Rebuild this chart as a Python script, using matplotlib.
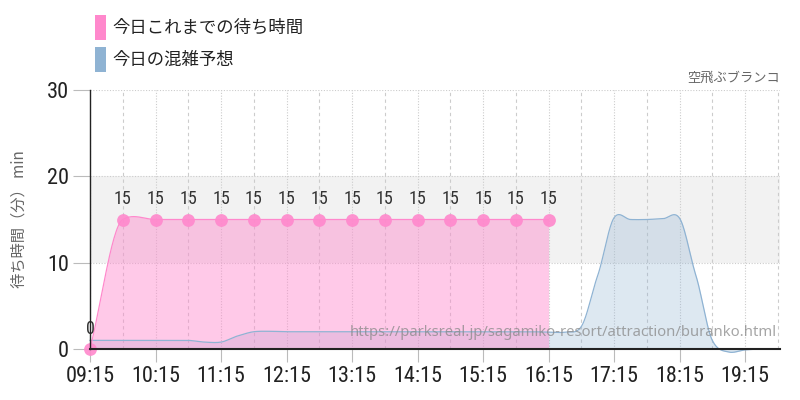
import numpy as np
import matplotlib
matplotlib.use("Agg")
import matplotlib.pyplot as plt
from matplotlib import font_manager
from matplotlib.patches import Rectangle

# ---------------- data ----------------
actual_times = ["09:15", "09:45", "10:15", "10:45", "11:15", "11:45", "12:15", "12:45",
                "13:15", "13:45", "14:15", "14:45", "15:15", "15:45", "16:15"]
actual_waits = [0, 15, 15, 15, 15, 15, 15, 15, 15, 15, 15, 15, 15, 15, 15]

forecast_times = ["09:15", "09:30", "09:45", "10:00", "10:15", "10:30", "10:45", "11:00",
                  "11:15", "11:30", "11:45", "12:00", "12:15", "12:30", "12:45", "13:00",
                  "13:15", "13:30", "13:45", "14:00", "14:15", "14:30", "14:45", "15:00",
                  "15:15", "15:30", "15:45", "16:00", "16:15", "16:30", "16:45", "17:00",
                  "17:15", "17:30", "17:45", "18:00", "18:15", "18:30", "18:45", "19:00",
                  "19:15", "19:30", "19:45"]
forecast_waits = [1.0, 1.0, 1.0, 1.0, 1.0, 1.0, 1.0, 0.8,
                  0.8, 1.5, 2.0, 2.05, 2.0, 2.0, 2.0, 2.0,
                  2.0, 2.0, 2.0, 2.0, 2.0, 2.0, 2.0, 2.0,
                  2.0, 2.0, 2.0, 2.0, 1.95, 1.95, 2.6, 8.5,
                  15.2, 15.0, 15.0, 15.1, 15.15, 8.5, 1.0, -0.35,
                  -0.1, 0.0, 0.0]

x_tick_labels = ["09:15", "10:15", "11:15", "12:15", "13:15", "14:15",
                 "15:15", "16:15", "17:15", "18:15", "19:15"]
y_ticks = [0, 10, 20, 30]

title_right = "空飛ぶブランコ"
legend_labels = ["今日これまでの待ち時間", "今日の混雑予想"]
y_label = "待ち時間（分） min"
watermark = "https://parksreal.jp/sagamiko-resort/attraction/buranko.html"

# ---------------- helpers ----------------
def to_min(t):
    h, m = t.split(":")
    return int(h) * 60 + int(m)

def smooth(x, y, scale=0.5, n=30):
    x = np.asarray(x, float)
    y = np.asarray(y, float)
    k = len(x)
    m = np.zeros(k)
    for i in range(k):
        if i == 0:
            m[i] = (y[1] - y[0]) / (x[1] - x[0]) / scale
        elif i == k - 1:
            m[i] = (y[-1] - y[-2]) / (x[-1] - x[-2]) / scale
        else:
            m[i] = (y[i + 1] - y[i - 1]) / (x[i + 1] - x[i - 1])
    m *= scale
    xs, ys = [], []
    for i in range(k - 1):
        h = x[i + 1] - x[i]
        t = np.linspace(0, 1, n, endpoint=(i == k - 2))
        h00 = 2 * t**3 - 3 * t**2 + 1
        h10 = t**3 - 2 * t**2 + t
        h01 = -2 * t**3 + 3 * t**2
        h11 = t**3 - t**2
        xs.append(x[i] + t * h)
        ys.append(h00 * y[i] + h10 * h * m[i] + h01 * y[i + 1] + h11 * h * m[i + 1])
    return np.concatenate(xs), np.concatenate(ys)

fl = font_manager.fontManager.ttflist
names = {f.name for f in fl}
num_kw = {"family": "DejaVu Sans"}
for cand in ["Liberation Sans Narrow", "Roboto Condensed", "Open Sans Condensed"]:
    if cand in names:
        num_kw = {"family": cand}
        break
else:
    if any(f.name == "DejaVu Sans" and "condensed" in str(f.stretch).lower() for f in fl):
        num_kw = {"family": "DejaVu Sans", "stretch": "condensed"}
    elif any(f.name == "Roboto" and "condensed" in str(f.stretch).lower() for f in fl):
        num_kw = {"family": "Roboto", "stretch": "condensed"}
    elif "Roboto" in names:
        num_kw = {"family": "Roboto"}
jp_font = ["Noto Sans CJK JP", "DejaVu Sans"]

# ---------------- figure ----------------
fig = plt.figure(figsize=(8, 4), dpi=100)
ax = fig.add_axes([90 / 800, 51 / 400, 690 / 800, 259 / 400])

ax_min = [to_min(t) for t in actual_times]
fc_min = [to_min(t) for t in forecast_times]
x0 = to_min("09:15")
x1 = x0 + 632
ax.set_xlim(x0, x1)
ax.set_ylim(0, 30)

# grey band
ax.axhspan(10, 20, color="#f2f2f2", zorder=0, lw=0)

# grid
for yv in [10, 20, 30]:
    ax.axhline(yv, color="#cccccc", lw=0.8, ls=(0, (1, 1.5)), zorder=1)
major = [to_min(t) for t in x_tick_labels]
for xv in major:
    ax.axvline(xv, color="#cccccc", lw=0.8, ls=(0, (1, 1.5)), zorder=1)
for xv in major:
    ax.axvline(xv + 30, color="#cccccc", lw=0.8, ls=(0, (3, 3)), zorder=1)

pink = "#ff88cc"
blue = "#8fb3d3"

# forecast
fx, fy = smooth(fc_min, forecast_waits, scale=0.85)
ax.fill_between(fx, fy, 0, color=blue, alpha=0.3, lw=0, zorder=2, clip_on=False)
ax.plot(fx, fy, color=blue, lw=0.9, zorder=3, clip_on=False)

# actual
axs, ays = smooth(ax_min, actual_waits, scale=0.3)
ax.fill_between(axs, ays, 0, color=pink, alpha=0.45, lw=0, zorder=2)
ax.plot(axs, ays, color=pink, lw=0.9, zorder=4)
ax.scatter(ax_min, actual_waits, s=85, color=pink, alpha=0.9, lw=0, zorder=5, clip_on=False)
for xm, v in zip(ax_min, actual_waits):
    ax.annotate(str(v), (xm, v), xytext=(0, 8), textcoords="offset points",
                ha="center", va="bottom", fontsize=13, color="#333333", zorder=6, **num_kw)

# watermark
ax.text(0.995, 0.065, watermark, transform=ax.transAxes, ha="right", va="center",
        fontsize=10.7, family="Noto Sans", color="#888888", alpha=0.75, zorder=7)

# axes styling
for s in ["top", "right"]:
    ax.spines[s].set_visible(False)
ax.spines["left"].set_color("#222222")
ax.spines["bottom"].set_color("#222222")
ax.spines["left"].set_linewidth(1.0)
ax.spines["bottom"].set_linewidth(1.5)
ax.spines["left"].set_zorder(8)
ax.spines["bottom"].set_zorder(8)

ax.set_yticks(y_ticks)
ax.set_yticklabels([str(v) for v in y_ticks], fontsize=16, color="#222222", **num_kw)
ax.set_xticks(major)
ax.set_xticklabels(x_tick_labels, fontsize=16, color="#222222", **num_kw)
ax.tick_params(axis="y", length=12, color="#bbbbbb", pad=3)
ax.tick_params(axis="x", length=9, color="#bbbbbb", pad=3)

ax.set_ylabel(y_label, family=jp_font, fontsize=11, color="#666666")
ax.yaxis.set_label_coords(-0.09, 0.5)

# title at right
fig.text(780 / 800, 1 - 78 / 400, title_right, ha="right", va="center",
         family=jp_font, fontsize=9.5, color="#666666")

# legend
fig.patches.append(Rectangle((95 / 800, 1 - 40 / 400), 11 / 800, 25 / 400,
                             transform=fig.transFigure, color=pink, lw=0))
fig.patches.append(Rectangle((95 / 800, 1 - 72 / 400), 11 / 800, 25 / 400,
                             transform=fig.transFigure, color=blue, lw=0))
fig.text(112 / 800, 1 - 28 / 400, legend_labels[0], ha="left", va="center",
         family=jp_font, fontsize=12.5, color="#222222")
fig.text(112 / 800, 1 - 60 / 400, legend_labels[1], ha="left", va="center",
         family=jp_font, fontsize=12.5, color="#222222")

fig.savefig("out.png", dpi=100)
